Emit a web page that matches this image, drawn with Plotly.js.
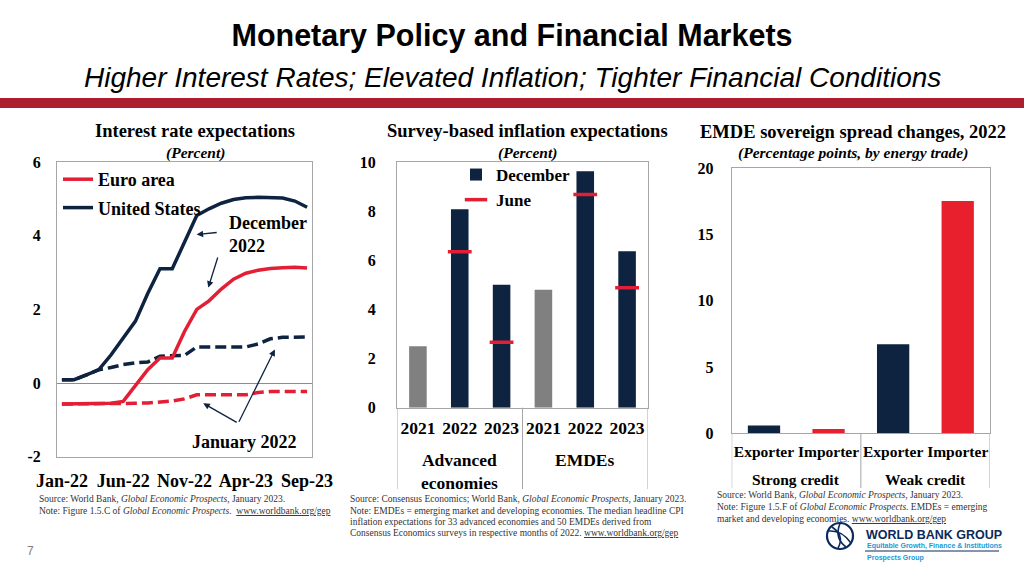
<!DOCTYPE html>
<html>
<head>
<meta charset="utf-8">
<script src="https://cdn.plot.ly/plotly-3.0.1.min.js"></script>
<style>
html, body { margin: 0; padding: 0; background: #ffffff; }
#chart { width: 1024px; height: 576px; }
</style>
</head>
<body>
<div id="chart"></div>
<script>
// ---------- Panel 1: Interest rate expectations (percent) ----------
const months = ['Jan-22','Feb-22','Mar-22','Apr-22','May-22','Jun-22','Jul-22','Aug-22','Sep-22','Oct-22','Nov-22','Dec-22',
                'Jan-23','Feb-23','Mar-23','Apr-23','May-23','Jun-23','Jul-23','Aug-23','Sep-23'];
const monthTicks = ['Jan-22','Jun-22','Nov-22','Apr-23','Sep-23'];
const rateTickVals = [-2, 0, 2, 4, 6];
const rateTickText = ['-2', '0', '2', '4', '6'];
const usDec2022 = [0.09,0.09,0.22,0.36,0.76,1.22,1.68,2.43,3.1,3.1,3.8,4.55,4.73,4.88,4.98,5.03,5.04,5.03,5.02,4.94,4.77];
const euroDec2022 = [-0.57,-0.57,-0.57,-0.56,-0.55,-0.5,-0.06,0.36,0.68,0.68,1.4,2.0,2.23,2.55,2.82,2.98,3.06,3.11,3.13,3.14,3.12];
const usJan2022 = [0.09,0.09,0.22,0.36,0.42,0.5,0.55,0.57,0.73,0.73,0.75,0.98,0.98,0.98,0.98,0.98,1.06,1.2,1.24,1.25,1.25];
const euroJan2022 = [-0.57,-0.57,-0.57,-0.56,-0.55,-0.55,-0.55,-0.54,-0.52,-0.49,-0.43,-0.32,-0.32,-0.32,-0.32,-0.32,-0.26,-0.23,-0.23,-0.23,-0.23];

// ---------- Panel 2: Survey-based inflation expectations (percent) ----------
const inflGroupNames = ['Advanced economies', 'EMDEs'];
const inflGroupLabels = ['Advanced<br>economies', 'EMDEs'];
const inflYears = ['2021', '2022', '2023'];
const infl2021Groups = ['Advanced economies', 'EMDEs'];
const infl2021Years = ['2021', '2021'];
const infl2021 = [2.5, 4.8];
const inflDecGroups = ['Advanced economies', 'Advanced economies', 'EMDEs', 'EMDEs'];
const inflDecYears = ['2022', '2023', '2022', '2023'];
const inflDecember = [8.08, 5.0, 9.62, 6.37];
const inflJune = [6.35, 2.66, 8.68, 4.88];

// ---------- Panel 3: EMDE sovereign spread changes, 2022 (percentage points) ----------
const creditGroups = ['Strong credit', 'Weak credit'];
const energyTrade = ['Exporter', 'Importer'];
const exporterChange = [0.58, 6.72];
const importerChange = [0.33, 17.53];

// ---------- helpers ----------
const catId = (g, s) => g + ' | ' + s;
const inflCats = inflGroupNames.flatMap(g => inflYears.map(y => catId(g, y)));
const inflTickText = inflGroupNames.flatMap(() => inflYears);
const spreadCats = creditGroups.flatMap(g => energyTrade.map(t => catId(g, t)));
const spreadTickText = creditGroups.flatMap(() => energyTrade);

// ---------- styling ----------
const NAVY = '#0d2340';
const RED = '#e41f35';
const GRAY = '#808080';
const FRAME = '#a6a6a6';
const SERIF = 'Liberation Serif, Times New Roman, serif';
const SANS = 'Liberation Sans, Arial, sans-serif';
const W = 1024, H = 576;
const px = v => v / W;
const py = v => 1 - v / H;

const traces = [
  // Panel 1 (dashed first so solid lines sit on top)
  {type: 'scatter', mode: 'lines', x: months, y: usJan2022, xaxis: 'x', yaxis: 'y', showlegend: false,
   line: {color: NAVY, width: 3.5, dash: '11px,5px'}, name: 'United States (Jan 2022)'},
  {type: 'scatter', mode: 'lines', x: months, y: euroJan2022, xaxis: 'x', yaxis: 'y', showlegend: false,
   line: {color: RED, width: 3.5, dash: '11px,5px'}, name: 'Euro area (Jan 2022)'},
  {type: 'scatter', mode: 'lines', x: months, y: euroDec2022, xaxis: 'x', yaxis: 'y', name: 'Euro area',
   legend: 'legend', legendgroup: 'ea', line: {color: RED, width: 3.5}},
  {type: 'scatter', mode: 'lines', x: months, y: usDec2022, xaxis: 'x', yaxis: 'y', name: 'United States',
   legend: 'legend', legendgroup: 'us', line: {color: NAVY, width: 3.5}},

  // Panel 2
  {type: 'bar', x: infl2021Groups.map((g, i) => catId(g, infl2021Years[i])), y: infl2021, xaxis: 'x2', yaxis: 'y2',
   showlegend: false, marker: {color: GRAY}, width: 0.42, name: '2021'},
  {type: 'bar', x: inflDecGroups.map((g, i) => catId(g, inflDecYears[i])), y: inflDecember, xaxis: 'x2', yaxis: 'y2',
   name: 'December', legend: 'legend2', marker: {color: NAVY}, width: 0.42},
  {type: 'scatter', mode: 'markers', x: inflDecGroups.map((g, i) => catId(g, inflDecYears[i])), y: inflJune,
   xaxis: 'x2', yaxis: 'y2', name: 'June', legend: 'legend2',
   marker: {symbol: 'line-ew', size: 17, color: RED, line: {color: RED, width: 3.5}}},

  // Panel 3
  {type: 'bar', x: creditGroups.map(g => catId(g, energyTrade[0])), y: exporterChange, xaxis: 'x3', yaxis: 'y3',
   showlegend: false, marker: {color: NAVY}, width: 0.5, name: 'Exporter'},
  {type: 'bar', x: creditGroups.map(g => catId(g, energyTrade[1])), y: importerChange, xaxis: 'x3', yaxis: 'y3',
   showlegend: false, marker: {color: '#e8202e'}, width: 0.5, name: 'Importer'}
];

const tickFont = size => ({family: SERIF, size: size, color: '#000', weight: 'bold'});
const frameAxis = {showline: true, mirror: true, linecolor: FRAME, linewidth: 1, showgrid: false, ticks: '', zeroline: false};

function ann(text, x, y, opts) {
  return Object.assign({text: text, x: x, y: y, xref: 'paper', yref: 'paper', showarrow: false,
    xanchor: 'center', yanchor: 'middle'}, opts || {});
}
const noteFont = {family: SERIF, size: 9.5, color: '#333'};

const annotations = [
  ann('Higher Interest Rates; Elevated Inflation; Tighter Financial Conditions', px(512), py(77),
      {font: {family: SANS, size: 28, style: 'italic', color: '#000'}}),
  ann('Interest rate expectations', px(195), py(131), {font: {family: SERIF, size: 18.5, weight: 'bold', color: '#000'}}),
  ann('(Percent)', px(195), py(153), {font: {family: SERIF, size: 15.5, weight: 'bold', style: 'italic', color: '#000'}}),
  ann('Survey-based inflation expectations', px(527), py(131), {font: {family: SERIF, size: 18.5, weight: 'bold', color: '#000'}}),
  ann('(Percent)', px(527), py(153), {font: {family: SERIF, size: 15.5, weight: 'bold', style: 'italic', color: '#000'}}),
  ann('EMDE sovereign spread changes, 2022', px(853), py(132), {font: {family: SERIF, size: 18.5, weight: 'bold', color: '#000'}}),
  ann('(Percentage points, by energy trade)', px(853), py(153), {font: {family: SERIF, size: 15.5, weight: 'bold', style: 'italic', color: '#000'}}),

  // panel 1 call-outs
  {text: 'December<br>2022', x: 13.43, y: 4.03, xref: 'x', yref: 'y', showarrow: false, xanchor: 'left', yanchor: 'middle',
   align: 'left', font: {family: SERIF, size: 18, weight: 'bold', color: '#000'}},
  {text: 'January 2022', x: 14.87, y: -1.59, xref: 'x', yref: 'y', showarrow: false, xanchor: 'center', yanchor: 'middle',
   font: {family: SERIF, size: 18, weight: 'bold', color: '#000'}},
  {text: '', x: 10.99, y: 4.03, ax: 12.75, ay: 4.09, xref: 'x', yref: 'y', axref: 'x', ayref: 'y',
   showarrow: true, arrowhead: 2, arrowsize: 1, arrowwidth: 1.3, arrowcolor: NAVY},
  {text: '', x: 11.94, y: 2.59, ax: 12.75, ay: 3.45, xref: 'x', yref: 'y', axref: 'x', ayref: 'y',
   showarrow: true, arrowhead: 2, arrowsize: 1, arrowwidth: 1.3, arrowcolor: NAVY},
  {text: '', x: 11.53, y: -0.55, ax: 14.38, ay: -1.09, xref: 'x', yref: 'y', axref: 'x', ayref: 'y',
   showarrow: true, arrowhead: 2, arrowsize: 1, arrowwidth: 1.3, arrowcolor: NAVY},
  {text: '', x: 17.37, y: 0.91, ax: 14.38, ay: -1.09, xref: 'x', yref: 'y', axref: 'x', ayref: 'y',
   showarrow: true, arrowhead: 2, arrowsize: 1, arrowwidth: 1.3, arrowcolor: NAVY},

  // source notes
  ann('Source: World Bank, <i>Global Economic Prospects</i>, January 2023.', px(37), py(499), {xanchor: 'left', font: noteFont}),
  ann('Note: Figure 1.5.C of <i>Global Economic Prospects</i>.  <span style="text-decoration:underline">www.worldbank.org/gep</span>', px(37), py(511), {xanchor: 'left', font: noteFont}),
  ann('Source: Consensus Economics; World Bank, <i>Global Economic Prospects</i>, January 2023.', px(348), py(499), {xanchor: 'left', font: noteFont}),
  ann('Note: EMDEs = emerging market and developing economies. The median headline CPI', px(348), py(511), {xanchor: 'left', font: noteFont}),
  ann('inflation expectations for 33 advanced economies and 50 EMDEs derived from', px(348), py(522), {xanchor: 'left', font: noteFont}),
  ann('Consensus Economics surveys in respective months of 2022. <span style="text-decoration:underline">www.worldbank.org/gep</span>', px(348), py(533), {xanchor: 'left', font: noteFont}),
  ann('Source: World Bank, <i>Global Economic Prospects</i>, January 2023.', px(715), py(495), {xanchor: 'left', font: noteFont}),
  ann('Note: Figure 1.5.F of <i>Global Economic Prospects</i>. EMDEs = emerging', px(715), py(507), {xanchor: 'left', font: noteFont}),
  ann('market and developing economies. <span style="text-decoration:underline">www.worldbank.org/gep</span>', px(715), py(519), {xanchor: 'left', font: noteFont}),

  // page number and logo text
  ann('7', px(30), py(551), {font: {family: SANS, size: 12, color: '#808080'}}),
  ann('WORLD BANK GROUP', px(864), py(535), {xanchor: 'left', font: {family: SANS, size: 12.5, weight: 'bold', color: '#0b2a5b'}}),
  ann('Equitable Growth, Finance &amp; Institutions', px(865), py(546), {xanchor: 'left', font: {family: SANS, size: 7, weight: 'bold', color: '#1a9ad6'}}),
  ann('Prospects Group', px(865), py(557.5), {xanchor: 'left', font: {family: SANS, size: 7, weight: 'bold', color: '#1a9ad6'}})
];

// group labels (outer category level) placed through the category axes
inflGroupLabels.forEach((lab, gi) => {
  annotations.push({text: lab, x: gi * inflYears.length + (inflYears.length - 1) / 2, y: py(448), xref: 'x2', yref: 'paper',
    showarrow: false, xanchor: 'center', yanchor: 'top', font: tickFont(17.5)});
});
creditGroups.forEach((lab, gi) => {
  annotations.push({text: lab, x: gi * energyTrade.length + (energyTrade.length - 1) / 2, y: py(479), xref: 'x3', yref: 'paper',
    showarrow: false, xanchor: 'center', yanchor: 'middle', font: tickFont(15.5)});
});

const shapes = [
  {type: 'rect', xref: 'paper', yref: 'paper', x0: 0, x1: 1, y0: py(108), y1: py(98), fillcolor: '#ab1f2f', line: {width: 0}, layer: 'below'},
  {type: 'circle', xref: 'paper', yref: 'paper', x0: px(827), x1: px(853), y0: py(549), y1: py(523), line: {color: '#0b2a5b', width: 2.2}},
  {type: 'path', xref: 'paper', yref: 'paper', line: {color: '#0b2a5b', width: 1.6},
   path: `M ${px(832)} ${py(527)} Q ${px(845)} ${py(536)} ${px(838)} ${py(548)}`},
  {type: 'path', xref: 'paper', yref: 'paper', line: {color: '#0b2a5b', width: 1.6},
   path: `M ${px(829)} ${py(531)} Q ${px(842)} ${py(530)} ${px(851)} ${py(543)}`},
  {type: 'path', xref: 'paper', yref: 'paper', line: {color: '#0b2a5b', width: 1.6},
   path: `M ${px(840)} ${py(523.5)} Q ${px(834)} ${py(538)} ${px(846)} ${py(547)}`},
  {type: 'line', xref: 'paper', yref: 'paper', x0: px(865), x1: px(999), y0: py(551), y1: py(551), line: {color: '#0b2a5b', width: 1}}
];
// group dividers below the category axes
for (let gi = 0; gi <= inflGroupNames.length; gi++) {
  const xb = gi * inflYears.length - 0.5;
  shapes.push({type: 'line', xref: 'x2', yref: 'paper', x0: xb, x1: xb, y0: py(407.7), y1: py(489), line: {color: FRAME, width: 1}});
}
for (let gi = 0; gi <= creditGroups.length; gi++) {
  const xb = gi * energyTrade.length - 0.5;
  shapes.push({type: 'line', xref: 'x3', yref: 'paper', x0: xb, x1: xb, y0: py(433.3), y1: py(488), line: {color: FRAME, width: 1}});
}

const layout = {
  width: W, height: H,
  margin: {l: 0, r: 0, t: 0, b: 0},
  paper_bgcolor: '#ffffff', plot_bgcolor: '#ffffff',
  font: {family: SERIF, color: '#000'},
  title: {text: 'Monetary Policy and Financial Markets', x: 0.5, xanchor: 'center', y: py(35), yanchor: 'middle',
          font: {family: SANS, size: 30.5, weight: 'bold', color: '#000'}},
  showlegend: true,
  barmode: 'overlay',
  hovermode: false,
  xaxis: Object.assign({}, frameAxis, {domain: [px(57), px(312)], anchor: 'y', type: 'category',
    range: [-0.4, 20.4], tickvals: monthTicks, ticktext: monthTicks, tickfont: tickFont(18), ticklabelstandoff: 8}),
  yaxis: Object.assign({}, frameAxis, {domain: [py(456.7), py(162)], anchor: 'x', range: [-2, 6],
    tickvals: rateTickVals, ticktext: rateTickText,
    zeroline: true, zerolinecolor: '#8c8c8c', zerolinewidth: 1, tickfont: tickFont(16), ticklabelstandoff: 12}),
  xaxis2: Object.assign({}, frameAxis, {domain: [px(397), px(648)], anchor: 'y2', type: 'category', tickangle: 0,
    categoryorder: 'array', categoryarray: inflCats, tickvals: inflCats, ticktext: inflTickText,
    range: [-0.5, inflCats.length - 0.5], tickfont: tickFont(17.5), ticklabelstandoff: 4}),
  yaxis2: Object.assign({}, frameAxis, {domain: [py(407.7), py(162)], anchor: 'x2', range: [0, 10], dtick: 2,
    tickfont: tickFont(16), ticklabelstandoff: 17}),
  xaxis3: Object.assign({}, frameAxis, {domain: [px(731.7), px(990)], anchor: 'y3', type: 'category', tickangle: 0,
    categoryorder: 'array', categoryarray: spreadCats, tickvals: spreadCats, ticktext: spreadTickText,
    range: [-0.5, spreadCats.length - 0.5], tickfont: tickFont(15.5), ticklabelstandoff: 4}),
  yaxis3: Object.assign({}, frameAxis, {domain: [py(433.3), py(168.3)], anchor: 'x3', range: [0, 20], dtick: 5,
    tickfont: tickFont(16), ticklabelstandoff: 14}),
  legend: {x: px(58), y: py(161), xanchor: 'left', yanchor: 'top', bgcolor: 'rgba(0,0,0,0)', borderwidth: 0,
    font: {family: SERIF, size: 18, weight: 'bold', color: '#000'}, itemwidth: 30, tracegroupgap: 2, traceorder: 'grouped'},
  legend2: {x: px(456), y: py(157), xanchor: 'left', yanchor: 'top', bgcolor: 'rgba(0,0,0,0)', borderwidth: 0,
    font: {family: SERIF, size: 17, weight: 'bold', color: '#000'}, itemwidth: 30},
  annotations: annotations,
  shapes: shapes
};

Plotly.newPlot('chart', traces, layout, {staticPlot: true, displayModeBar: false});
</script>
</body>
</html>
